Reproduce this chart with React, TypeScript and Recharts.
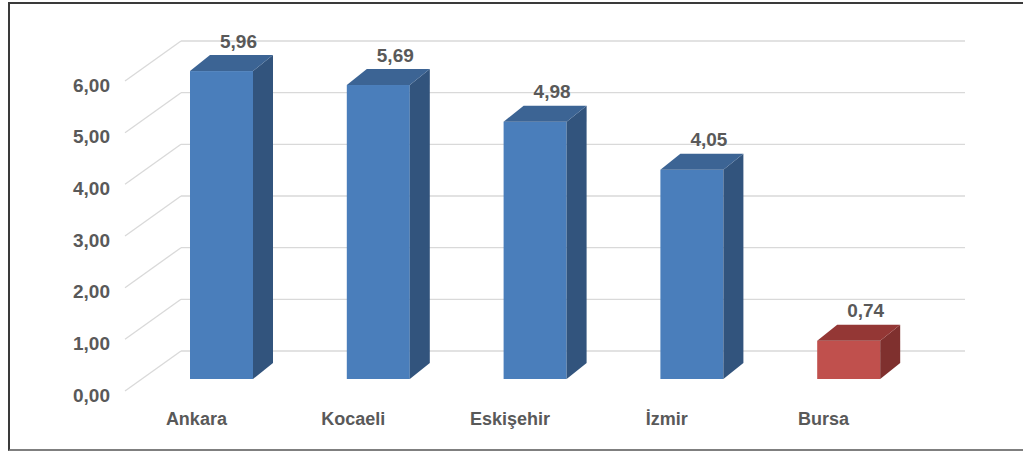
import { BarChart, Bar, XAxis, YAxis, CartesianGrid, Cell, LabelList } from 'recharts';

const cities = ['Ankara', 'Kocaeli', 'Eskişehir', 'İzmir', 'Bursa'];
const values = [5.96, 5.69, 4.98, 4.05, 0.74];
const yTicks = [0, 1, 2, 3, 4, 5, 6];
const highlight = 'Bursa';

const data = cities.map((name, i) => ({ name, value: values[i] }));

const W = 1023;
const H = 452;
const Y_W = 40;
const X_H = 30;
const M = { top: 69, right: 96, bottom: 73 - X_H, left: 143 - Y_W };
const PLOT_BOTTOM = H - 73;

// depth of the boxes
const DX = 20;
const DY = 16;

const BLUE = { front: '#4a7ebb', side: '#32547d', top: '#3c6494' };
const RED = { front: '#c0504d', side: '#7f302e', top: '#943735' };
const TXT = '#595959';
const FONT = '"Liberation Sans", Arial, sans-serif';

const fmt = (v: number) => v.toFixed(2).replace('.', ',');

function Box(props: any) {
  const { x, y, width: w, height: h, payload } = props;
  const c = payload.name === highlight ? RED : BLUE;
  return (
    <g>
      <rect x={x} y={y} width={w} height={h} fill={c.front} />
      <polygon
        points={`${x + w},${y} ${x + w + DX},${y - DY} ${x + w + DX},${y + h - DY} ${x + w},${y + h}`}
        fill={c.side}
      />
      <polygon
        points={`${x},${y} ${x + DX},${y - DY} ${x + w + DX},${y - DY} ${x + w},${y}`}
        fill={c.top}
      />
    </g>
  );
}

function GridLine(p: any) {
  const { x1, x2, y1 } = p;
  return (
    <g key={p.key}>
      <line x1={x1 - 18} y1={y1 + 12} x2={x1 + 38} y2={y1 - 28} stroke="#d9d9d9" strokeWidth={1.3} />
      <line x1={x1 + 38} y1={y1 - 28} x2={x2 + 38} y2={y1 - 28} stroke="#d9d9d9" strokeWidth={1.3} />
    </g>
  );
}

function YTick(p: any) {
  return (
    <text x={110} y={p.y + 16} textAnchor="end" dominantBaseline="central"
      fontFamily={FONT} fontWeight="bold" fontSize={19} fill={TXT}>
      {fmt(p.payload.value)}
    </text>
  );
}

function XTick(p: any) {
  return (
    <text x={p.x - 25} y={PLOT_BOTTOM + 40} textAnchor="middle" dominantBaseline="central"
      fontFamily={FONT} fontWeight="bold" fontSize={18} fill={TXT}>
      {p.payload.value}
    </text>
  );
}

function ValueLabel(p: any) {
  const { x, y, width, value } = p;
  return (
    <text x={x + width / 2 + 17} y={y - 30} textAnchor="middle" dominantBaseline="central"
      fontFamily={FONT} fontWeight="bold" fontSize={19} fill={TXT}>
      {fmt(value)}
    </text>
  );
}

export default function App() {
  return (
    <div style={{ position: 'absolute', left: 0, top: 0, width: W, height: H, background: '#fff', overflow: 'hidden' }}>
      <div style={{
        position: 'absolute', left: 8, top: 2, width: W + 20, height: 445,
        borderTop: '2px solid #3a3a3a', borderLeft: '2px solid #3a3a3a', borderBottom: '2px solid #7f7f7f',
      }} />
      <div style={{ position: 'absolute', left: 0, top: 0 }}>
        <BarChart width={W} height={H} data={data} margin={M}>
          <CartesianGrid vertical={false} horizontal={GridLine} />
          <XAxis dataKey="name" height={X_H} axisLine={false} tickLine={false} tick={XTick} interval={0} />
          <YAxis domain={[0, 6]} ticks={yTicks} width={Y_W} axisLine={false} tickLine={false} tick={YTick} interval={0} />
          <Bar dataKey="value" barSize={63} shape={Box} isAnimationActive={false}>
            {data.map((d) => (
              <Cell key={d.name} fill={d.name === highlight ? RED.front : BLUE.front} />
            ))}
            <LabelList dataKey="value" content={ValueLabel} />
          </Bar>
        </BarChart>
      </div>
    </div>
  );
}
